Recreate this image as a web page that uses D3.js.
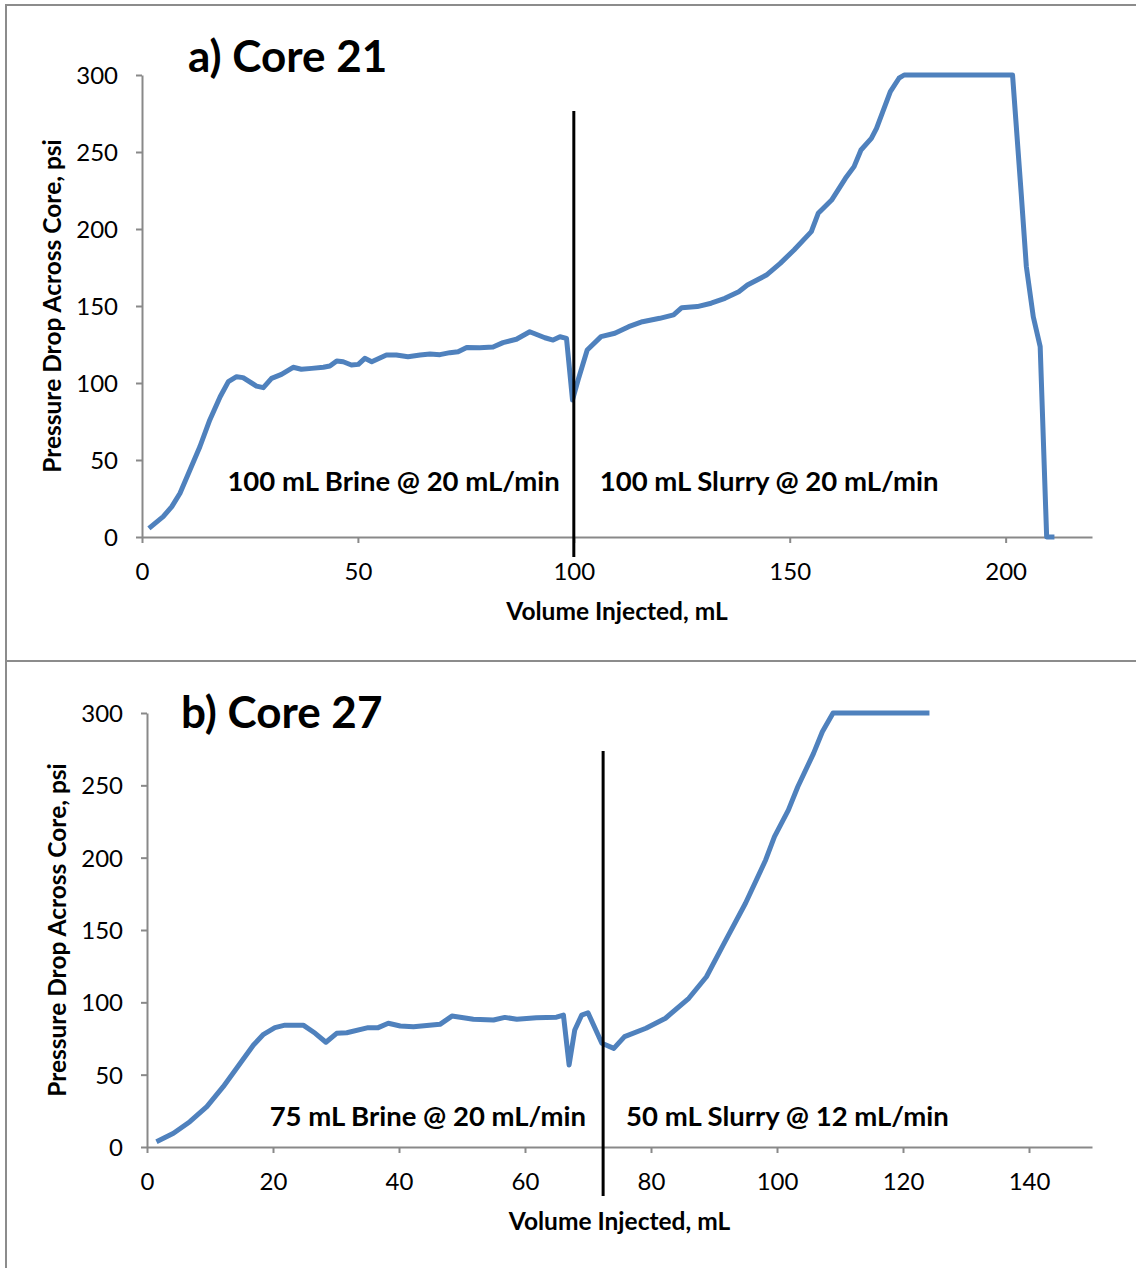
<!DOCTYPE html>
<html>
<head>
<meta charset="utf-8">
<script src="https://cdn.jsdelivr.net/npm/d3@7"></script>
<style>
  body { margin: 0; background: #fff; }
  svg { display: block; font-family: Lato, Carlito, Calibri, sans-serif; }
</style>
</head>
<body>
<svg id="chart" width="1136" height="1268"></svg>
<script>
// core 21: volume injected (mL) and pressure drop (psi)
const core21Volume = [1.6, 4.9, 6.9, 8.8, 11.1, 13.4, 15.7, 18.1, 20, 21.9, 23.4, 26.5, 28.1, 30, 32.3, 35, 36.9, 39.3, 42, 43.5,
  45.1, 46.6, 48.5, 50.1, 51.6, 53.2, 56.6, 58.9, 61.6, 64.4, 66.7, 69, 71.3, 73.2, 75.2, 78.2, 81.3, 83.6, 86.7, 89.8,
  93.3, 95.2, 96.8, 98.3, 99.7, 101, 103.1, 106.3, 109.5, 112.7, 115.9, 119.9, 123.1, 125, 128.6, 131.8, 135, 138.2, 140.2, 144.6,
  147.8, 151, 155, 156.6, 159.7, 162.9, 164.9, 166.5, 168.9, 170.1, 173.3, 175.3, 176.5, 201.6, 203.6, 204.8, 206.4, 208, 209.5, 211.3]
const core21Pressure = [5.6, 13.2, 19.7, 28.4, 43.5, 58.6, 76, 91.1, 100.9, 104.1, 103.5, 98, 97, 103, 105.6, 110.2, 108.9, 109.5, 110.2, 111,
  114.3, 113.8, 111.7, 112.1, 116, 113.8, 118.2, 118.2, 117.1, 118.2, 118.8, 118.4, 119.7, 120.3, 123.1, 122.9, 123.4, 126.2, 128.4, 133.3,
  129.4, 127.9, 130, 129, 89, 102, 121.4, 130.1, 132.3, 136.6, 139.8, 142, 144.2, 148.9, 149.6, 151.8, 155, 159.3, 163.6, 170.1,
  177.7, 186.4, 198.3, 210.2, 218.8, 232.9, 240.5, 251.3, 258.9, 265.4, 289.2, 297.9, 300, 300, 223.2, 175.5, 143, 123.6, 0, 0]

// core 27
const core27Volume = [1.5, 4.2, 6.8, 9.5, 12.1, 14.8, 16.9, 18.5, 20.3, 21.9, 24.8, 26.7, 28.4, 30.1, 31.7, 35.1, 36.7, 38.3, 40.2, 42.3,
  46.5, 48.4, 51.8, 55, 56.8, 58.7, 61.8, 65, 66.1, 67, 67.9, 69, 70, 72.2, 74.1, 75.8, 79.2, 82.3, 86, 88.8,
  91.6, 95, 98.2, 99.6, 101.8, 103.3, 105.8, 107.2, 108.9, 124.2]
const core27Pressure = [3.7, 9.5, 17.5, 27.9, 41.7, 57.9, 70.5, 77.9, 82.5, 84.2, 84.2, 78.6, 72.4, 78.6, 79, 82.5, 82.5, 85.5, 83.6, 83.2,
  84.8, 90.5, 88.3, 87.8, 89.6, 88.3, 89.4, 89.7, 91.2, 56.7, 80.9, 91.2, 92.8, 71.7, 68.2, 76.3, 82.1, 89, 102.8, 117.7,
  140.8, 168.5, 198.4, 214.5, 232.9, 249, 272.1, 287, 300, 300]

const pressureTicks = [0, 50, 100, 150, 200, 250, 300]
const core21VolumeTicks = [0, 50, 100, 150, 200]
const core27VolumeTicks = [0, 20, 40, 60, 80, 100, 120, 140]

// stage switch (brine -> slurry): x value and vertical extent in psi
const core21Switch = [100, -13, 276.6]
const core27Switch = [72.4, -33.9, 273.7]

const core21Labels = ['a) Core 21', '100 mL Brine @ 20 mL/min', '100 mL Slurry @ 20 mL/min']
const core27Labels = ['b) Core 27', '75 mL Brine @ 20 mL/min', '50 mL Slurry @ 12 mL/min']

const svg = d3.select('#chart')
const axisColor = '#898989'
const lineColor = '#4f81bd'

// panel frames
svg.append('path')
  .attr('d', 'M6,1268V5H1136M6,661H1136')
  .attr('fill', 'none')
  .attr('stroke', '#8c8c8c')
  .attr('stroke-width', 2)

function drawPanel(p) {
  const x = d3.scaleLinear().domain(p.xDomain).range([p.left, p.right])
  const y = d3.scaleLinear().domain([0, 300]).range([p.bottom, p.top])
  const g = svg.append('g')

  const yAxis = g.append('g')
    .attr('transform', `translate(${p.left},0)`)
    .call(d3.axisLeft(y).tickValues(pressureTicks).tickSize(6).tickSizeOuter(0).tickPadding(18))
  const xAxis = g.append('g')
    .attr('transform', `translate(0,${p.bottom})`)
    .call(d3.axisBottom(x).tickValues(p.xTicks).tickSize(6).tickSizeOuter(0).tickPadding(20))

  for (const ax of [xAxis, yAxis]) {
    ax.select('.domain').attr('stroke', axisColor).attr('stroke-width', 2)
    ax.selectAll('.tick line').attr('stroke', axisColor).attr('stroke-width', 2)
    ax.selectAll('.tick text')
      .attr('fill', '#000')
      .style('font-size', '24px')
      .style('font-family', 'Lato, Carlito, Calibri, sans-serif')
  }
  yAxis.selectAll('.tick text').attr('dy', '0.36em')

  const points = p.vol.map((v, i) => [v, p.psi[i]])
  g.append('path')
    .datum(points)
    .attr('fill', 'none')
    .attr('stroke', lineColor)
    .attr('stroke-width', 5)
    .attr('stroke-linejoin', 'round')
    .attr('d', d3.line().x(d => x(d[0])).y(d => y(d[1])))

  const [sx, sy0, sy1] = p.switchAt
  g.append('line')
    .attr('x1', x(sx)).attr('x2', x(sx))
    .attr('y1', y(sy0)).attr('y2', y(sy1))
    .attr('stroke', '#000')
    .attr('stroke-width', 3)

  g.append('text')
    .attr('x', p.titleX).attr('y', p.titleY)
    .attr('font-size', 44).attr('font-weight', 'bold')
    .text(p.labels[0])

  g.append('text')
    .attr('x', x(sx) - p.gap[0]).attr('y', p.noteY)
    .attr('text-anchor', 'end')
    .attr('font-size', 27.5).attr('font-weight', 'bold')
    .text(p.labels[1])

  g.append('text')
    .attr('x', x(sx) + p.gap[1]).attr('y', p.noteY)
    .attr('font-size', 27.5).attr('font-weight', 'bold')
    .text(p.labels[2])

  g.append('text')
    .attr('x', (p.left + p.right) / 2).attr('y', p.bottom + 83)
    .attr('text-anchor', 'middle')
    .attr('font-size', 24.5).attr('font-weight', 'bold')
    .text('Volume Injected, mL')

  g.append('text')
    .attr('transform', `translate(${p.yTitleX},${(p.top + p.bottom) / 2}) rotate(-90)`)
    .attr('text-anchor', 'middle')
    .attr('font-size', 24.5).attr('font-weight', 'bold')
    .text('Pressure Drop Across Core, psi')
}

drawPanel({
  vol: core21Volume, psi: core21Pressure, xDomain: [0, 220], xTicks: core21VolumeTicks,
  left: 142, right: 1092, top: 75, bottom: 537,
  switchAt: core21Switch, labels: core21Labels, gap: [14, 26],
  titleX: 188, titleY: 72, noteY: 491, yTitleX: 61
})

drawPanel({
  vol: core27Volume, psi: core27Pressure, xDomain: [0, 150], xTicks: core27VolumeTicks,
  left: 147, right: 1092, top: 713, bottom: 1147,
  switchAt: core27Switch, labels: core27Labels, gap: [17, 23],
  titleX: 181, titleY: 728, noteY: 1126, yTitleX: 66
})
</script>
</body>
</html>
